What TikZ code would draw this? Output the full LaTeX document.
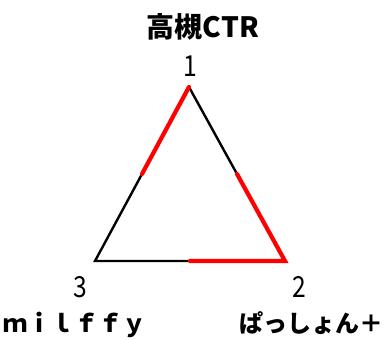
\documentclass[tikz,border=0pt]{standalone}
\usepackage{fontspec}
\setmainfont{Noto Sans CJK JP}
\usetikzlibrary{calc}

\tikzset{
	side/.style={line width=2.4pt,black},
	hot/.style={line width=4.2pt,red,line cap=round,line join=miter},
	vlabel/.style={inner sep=0pt,anchor=base,font=\fontsize{29}{29}\selectfont},
	tlabel/.style={inner sep=0pt,anchor=base,font=\fontsize{24}{24}\selectfont\bfseries}
}

\begin{document}
\begin{tikzpicture}[x=1pt,y=-1pt]

	\useasboundingbox (0,0) rectangle (386,340);

	% Corners and half-way points
	\coordinate (v1) at (189,87);
	\coordinate (v2) at (285,261);
	\coordinate (v3) at (95,261);
	\coordinate (m13) at ($(v1)!0.5!(v3)$);
	\coordinate (m12) at ($(v1)!0.5!(v2)$);
	\coordinate (m32) at ($(v3)!0.5!(v2)$);

	% Triangle
	\draw[side] (m13) -- (v3) -- (m32);
	\draw[side] (v1) -- (m12);
	\draw[hot] (m13) -- (v1);
	\draw[hot] (m12) -- (v2) -- (m32);

	% Labels
	\node[vlabel,font=\fontsize{28}{28}\selectfont\bfseries] (title) at (203,37) {高槻CTR};
	\node[vlabel,xscale=0.85] (n1) at (190,76) {1};
	\node[vlabel,xscale=0.85] (n2) at (299,297) {2};
	\node[vlabel,xscale=0.85] (n3) at (80,297) {3};
	\node[tlabel] (name3) at (75,332) {ｍｉｌｆｆｙ};
	\node[tlabel] (name2) at (311,332) {ぱっしょん＋};

\end{tikzpicture}
\end{document}
